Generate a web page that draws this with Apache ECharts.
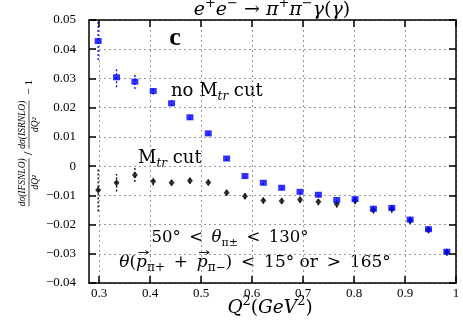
<!DOCTYPE html>
<html><head><meta charset="utf-8">
<script src="https://cdn.jsdelivr.net/npm/echarts@6/dist/echarts.min.js"></script>
<style>html,body{margin:0;padding:0;background:#fff}#c{width:463px;height:322px}</style>
</head><body><div id="c"></div>
<script>
// Q^2 bin centres (GeV^2)
const qValues = [0.298,0.334,0.370,0.406,0.442,0.478,0.514,0.550,0.586,0.622,0.658,0.694,0.730,0.766,0.802,0.838,0.874,0.910,0.946,0.982];
// no M_tr cut (blue squares)
const noCutValues = [0.0428,0.0304,0.0289,0.0257,0.0215,0.0167,0.0112,0.0026,-0.0034,-0.0057,-0.0074,-0.0088,-0.0098,-0.0116,-0.0113,-0.0146,-0.0143,-0.0183,-0.0216,-0.0293];
const noCutErrors = [0.0065,0.0034,0.0025,0.0012,0.0010,0.0009,0.0008,0.0008,0.0008,0.0008,0.0008,0.0008,0.0008,0.0008,0.0008,0.0010,0.0010,0.0010,0.0010,0.0010];
// M_tr cut (black diamonds)
const cutValues = [-0.0082,-0.0057,-0.0030,-0.0052,-0.0057,-0.0050,-0.0056,-0.0091,-0.0103,-0.0118,-0.0119,-0.0115,-0.0122,-0.0130,-0.0118,-0.0150,-0.0147,-0.0186,-0.0218,-0.0295];
const cutErrors = [0.0073,0.0030,0.0024,0.0014,0.0010,0.0010,0.0010,0.0010,0.0010,0.0010,0.0010,0.0010,0.0012,0.0012,0.0012,0.0012,0.0012,0.0012,0.0012,0.0012];
// axes
const xTicks = [0.3,0.4,0.5,0.6,0.7,0.8,0.9,1.0];
const xMin = 0.28, xMax = 1.0;
const yMin = -0.04, yMax = 0.05, yStep = 0.01;

const SERIF = '"Liberation Serif","DejaVu Serif",serif';
const DJ = '"DejaVu Serif","Liberation Serif",serif';
const chart = echarts.init(document.getElementById('c'), null, {renderer:'canvas'});

function pts(vals){ return qValues.map((q,i)=>[q, vals[i]]); }
function errData(vals, errs){ return qValues.map((q,i)=>[q, vals[i]-errs[i], vals[i]+errs[i]]); }
function errSeries(vals, errs, color, z){
  return {type:'custom', data: errData(vals,errs), z: z, clip:true, silent:true,
    encode:{x:0, y:[1,2]},
    renderItem:(params, api)=>{
      const p1 = api.coord([api.value(0), api.value(1)]);
      const p2 = api.coord([api.value(0), api.value(2)]);
      return {type:'line', shape:{x1:p1[0],y1:p1[1],x2:p2[0],y2:p2[1]},
        style:{stroke:color, lineWidth:1.3, lineDash:[2,2]}};
    }};
}
const fmtX = v => Math.abs(v-1)<1e-9 ? '1' : v.toFixed(1);
const fmtY = v => Math.abs(v)<1e-9 ? '0' : (v<0?'\u2212':'') + Math.abs(v).toFixed(2);

const axisLineStyle = {show:true, onZero:false, lineStyle:{color:'#000', width:1.5}};
const tickStyle = {color:'#000', width:1.5};
const gridLineStyle = {type:[2,3], color:'#9a9a9a', width:1};

const ctx = document.createElement('canvas').getContext('2d');
function tw(t, font){ ctx.font = font; return ctx.measureText(t).width; }

// math-like text laid out from segments
function mt(x, y, segs, size, fam, align){
  const small = Math.round(size*0.68);
  let items = segs.map(([t,k])=>{
    let font = size+'px '+fam, dy = 0, vec = false;
    if (k==='i') font = 'italic '+size+'px '+fam;
    else if (k==='b') font = 'bold '+size+'px '+fam;
    else if (k==='v') { font = 'italic '+size+'px '+fam; vec = true; }
    else if (k==='sp') { font = small+'px '+fam; dy = -0.36*size; }
    else if (k==='sb') { font = small+'px '+fam; dy = 0.3*size; }
    else if (k==='sbi') { font = 'italic '+small+'px '+fam; dy = 0.3*size; }
    return {t, font, dy, vec, w: tw(t, font)};
  });
  const total = items.reduce((s,it)=>s+it.w, 0);
  let cur = align==='left' ? 0 : (align==='right' ? -total : -total/2);
  const ch = [];
  items.forEach(it=>{
    ch.push({type:'text', x:cur, y:it.dy, style:{text:it.t, font:it.font, fill:'#000', align:'left', verticalAlign:'middle'}});
    if (it.vec) {
      const ay = -0.62*size, x1 = cur + 0.2*it.w, x2 = cur + it.w + 1.5;
      ch.push({type:'line', shape:{x1:x1,y1:ay,x2:x2,y2:ay}, style:{stroke:'#000', lineWidth:0.9}});
      ch.push({type:'polyline', shape:{points:[[x2-3,ay-2],[x2,ay],[x2-3,ay+2]]}, style:{stroke:'#000', lineWidth:0.9, fill:null}});
    }
    cur += it.w;
  });
  return {type:'group', x:x, y:y, z:100, silent:true, children:ch};
}

// y-axis label as a rotated group with stacked fractions
const fs = 9.5;
const fItal = 'italic ' + fs + 'px ' + SERIF;
const num1 = 'd\u03C3(IFSNLO)', num2 = 'd\u03C3(ISRNLO)', den = 'dQ\u00B2';
const w1 = tw(num1, fItal), w2 = tw(num2, fItal);
const wSlash = tw('/', fs*1.4+'px '+SERIF), wM1 = tw('\u2212 1', fs*1.2+'px '+SERIF);
const gap = 3;
const total = w1 + gap + wSlash + gap + w2 + gap*2 + wM1;
let cx = -total/2;
const yl = [];
function frac(n, w){
  const c = cx + w/2;
  yl.push({type:'text', x:c, y:-1.5, style:{text:n, font:fItal, fill:'#000', align:'center', verticalAlign:'bottom'}});
  yl.push({type:'line', shape:{x1:cx, y1:0, x2:cx+w, y2:0}, style:{stroke:'#000', lineWidth:0.7}});
  yl.push({type:'text', x:c, y:1.5, style:{text:den, font:fItal, fill:'#000', align:'center', verticalAlign:'top'}});
  cx += w;
}
frac(num1, w1); cx += gap;
yl.push({type:'text', x:cx + wSlash/2, y:0, style:{text:'/', font:fs*1.4+'px '+SERIF, fill:'#000', align:'center', verticalAlign:'middle'}});
cx += wSlash + gap;
frac(num2, w2); cx += gap*2;
yl.push({type:'text', x:cx + wM1/2, y:0, style:{text:'\u2212 1', font:fs*1.2+'px '+SERIF, fill:'#000', align:'center', verticalAlign:'middle'}});

const option = {
  animation:false,
  backgroundColor:'#fff',
  grid:{left:89, right:7, top:20, bottom:39, containLabel:false},
  xAxis:[
    {type:'value', min:xMin, max:xMax, position:'bottom',
     axisLine:axisLineStyle,
     axisTick:{show:true, inside:true, length:7, customValues:xTicks, lineStyle:tickStyle},
     axisLabel:{show:true, customValues:xTicks, formatter:fmtX, color:'#000', fontFamily:SERIF, fontSize:13, margin:4},
     splitLine:{show:true, lineStyle:gridLineStyle}},
    {type:'value', min:xMin, max:xMax, position:'top',
     axisLine:axisLineStyle,
     axisTick:{show:true, inside:true, length:7, customValues:xTicks, lineStyle:tickStyle},
     axisLabel:{show:false}, splitLine:{show:false}}
  ],
  yAxis:[
    {type:'value', min:yMin, max:yMax, interval:yStep, position:'left',
     axisLine:axisLineStyle,
     axisTick:{show:true, inside:true, length:7, lineStyle:tickStyle},
     axisLabel:{show:true, formatter:fmtY, color:'#000', fontFamily:SERIF, fontSize:13, margin:13},
     splitLine:{show:true, lineStyle:gridLineStyle}},
    {type:'value', min:yMin, max:yMax, interval:yStep, position:'right',
     axisLine:axisLineStyle,
     axisTick:{show:true, inside:true, length:7, lineStyle:tickStyle},
     axisLabel:{show:false}, splitLine:{show:false}}
  ],
  series:[
    errSeries(cutValues, cutErrors, '#000', 3),
    {type:'scatter', data:pts(cutValues), symbol:'diamond', symbolSize:[6,7], itemStyle:{color:'#000'}, z:4, silent:true},
    errSeries(noCutValues, noCutErrors, '#0000ff', 5),
    {type:'scatter', data:pts(noCutValues), symbol:'rect', symbolSize:[7,6], itemStyle:{color:'#0000ff'}, z:6, silent:true}
  ],
  graphic:[
    mt(272, 10, [['e','i'],['+','sp'],['e','i'],['\u2212','sp'],[' \u2192 ','r'],['\u03C0','i'],['+','sp'],['\u03C0','i'],['\u2212','sp'],['\u03B3','i'],['(','r'],['\u03B3','i'],[')','r']], 19, DJ, 'center'),
    mt(270, 308, [['Q','i'],['2','sp'],['(','r'],['GeV','i'],['2','sp'],[')','r']], 18.5, DJ, 'center'),
    {type:'text', x:175, y:38, z:100, silent:true, style:{text:'c', font:'bold 26px '+SERIF, fill:'#000', align:'center', verticalAlign:'middle'}},
    mt(171, 91, [['no M','r'],['tr','sbi'],[' cut','r']], 18, DJ, 'left'),
    mt(138, 158, [['M','r'],['tr','sbi'],[' cut','r']], 18, DJ, 'left'),
    mt(230, 238, [['50\u00B0\u2009 < \u2009','r'],['\u03B8','i'],['\u03C0\u00B1','sb'],['\u2009 < \u2009130\u00B0','r']], 16.5, DJ, 'center'),
    mt(255, 263, [['\u03B8','i'],['(','r'],['p','v'],['\u03C0+','sb'],['\u2009 + \u2009','r'],['p','v'],['\u03C0\u2212','sb'],[')\u2009 < \u200915\u00B0 or\u2009 > \u2009165\u00B0','r']], 17, DJ, 'center'),
    {type:'group', x:29, y:143, rotation:Math.PI/2, z:100, silent:true, children:yl}
  ]
};
chart.setOption(option);
</script></body></html>
